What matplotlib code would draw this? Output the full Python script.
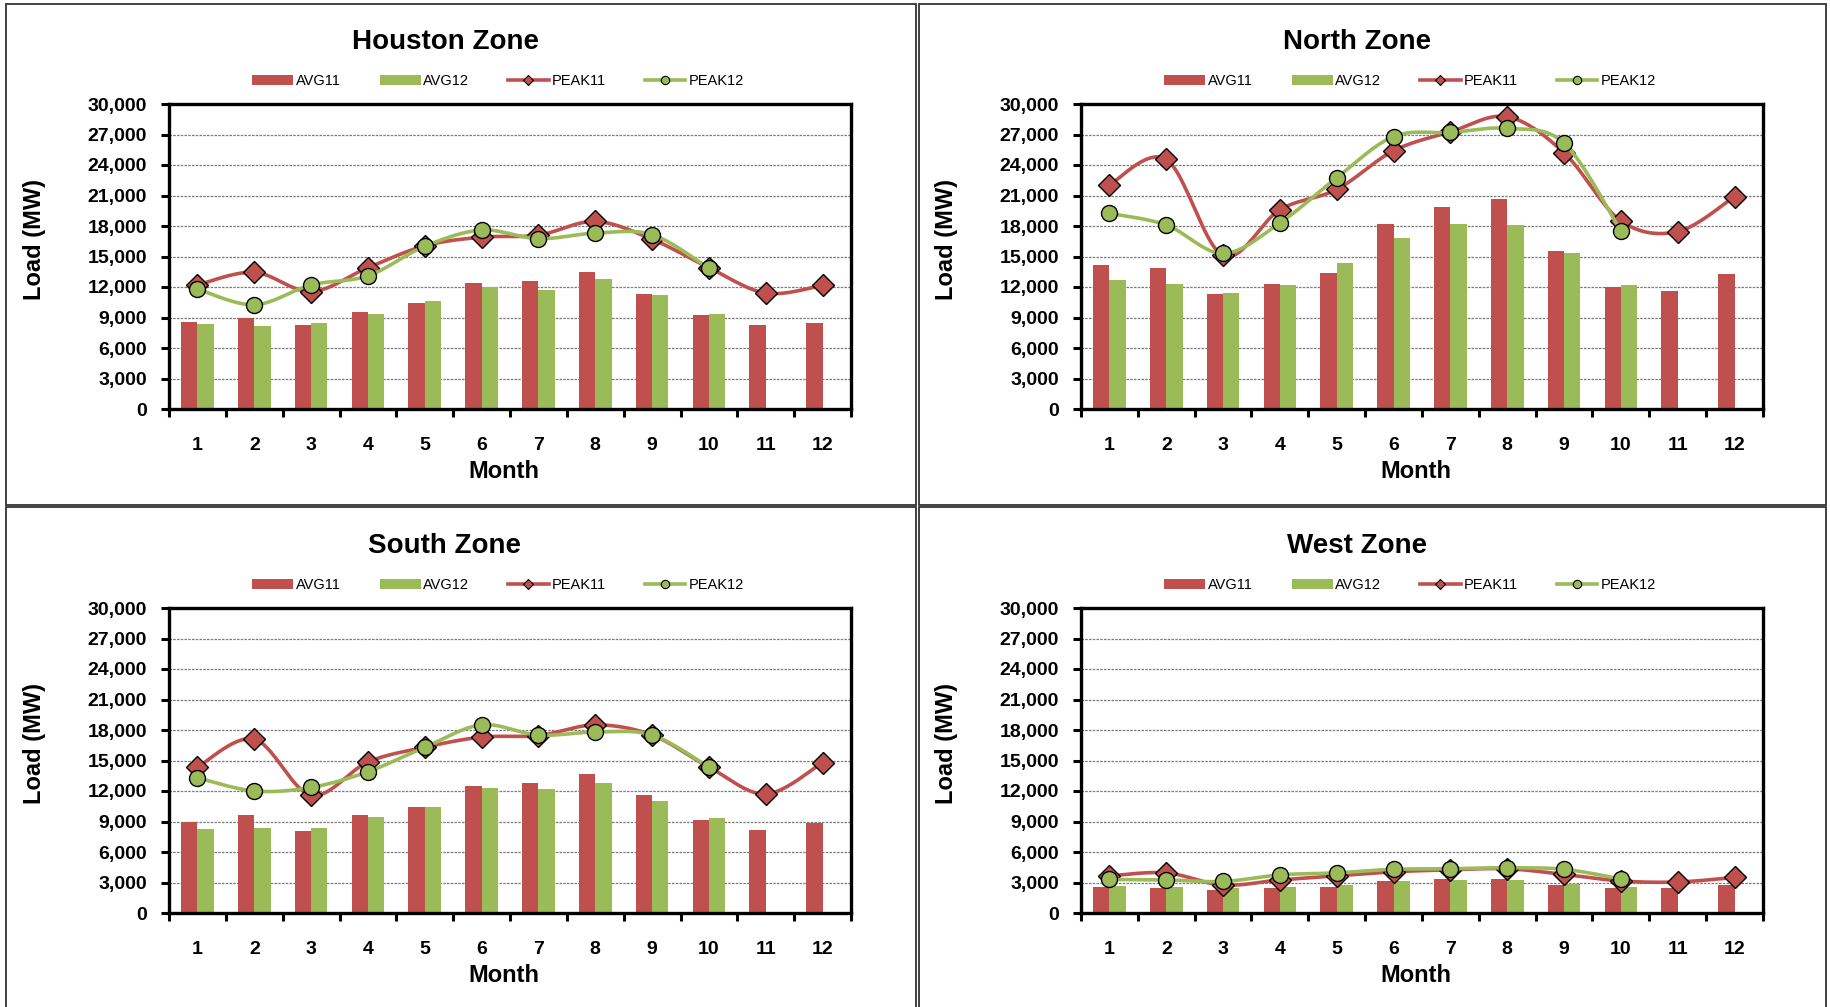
import numpy as np
import matplotlib
matplotlib.use("Agg")
import matplotlib.pyplot as plt
from matplotlib.lines import Line2D
from matplotlib.patches import Patch, Rectangle
from matplotlib.ticker import FuncFormatter

plt.rcParams['font.family'] = ['Liberation Sans', 'DejaVu Sans']

W, H = 1830, 1007

months = list(range(1, 13))
zones = ["Houston Zone", "North Zone", "South Zone", "West Zone"]

# values (MW)
houston_avg11 = [8600, 9000, 8300, 9500, 10450, 12400, 12550, 13450, 11350, 9200, 8250, 8450]
houston_avg12 = [8350, 8150, 8500, 9350, 10650, 12000, 11750, 12750, 11250, 9350]
houston_peak11 = [12200, 13450, 11550, 13900, 16050, 16900, 17100, 18450, 16700, 13900, 11400, 12150]
houston_peak12 = [11800, 10250, 12200, 13100, 16000, 17600, 16750, 17300, 17150, 13850]

north_avg11 = [14150, 13900, 11300, 12250, 13400, 18150, 19900, 20700, 15500, 12000, 11600, 13250]
north_avg12 = [12650, 12300, 11400, 12150, 14350, 16850, 18150, 18050, 15350, 12200]
north_peak11 = [22050, 24550, 15100, 19600, 21600, 25400, 27250, 28750, 25200, 18500, 17450, 20900]
north_peak12 = [19250, 18100, 15300, 18300, 22750, 26800, 27200, 27600, 26150, 17500]

south_avg11 = [8950, 9650, 8050, 9600, 10450, 12500, 12800, 13650, 11650, 9100, 8200, 8900]
south_avg12 = [8300, 8400, 8400, 9400, 10400, 12250, 12150, 12800, 11050, 9350]
south_peak11 = [14350, 17100, 11600, 14850, 16300, 17300, 17450, 18500, 17500, 14350, 11700, 14800]
south_peak12 = [13300, 12000, 12350, 13900, 16300, 18500, 17500, 17800, 17500, 14350]

west_avg11 = [2600, 2500, 2250, 2450, 2600, 3150, 3300, 3350, 2750, 2450, 2450, 2750]
west_avg12 = [2650, 2600, 2500, 2600, 2800, 3100, 3200, 3250, 2900, 2600]
west_peak11 = [3650, 3950, 2750, 3250, 3650, 4050, 4250, 4350, 3800, 3150, 3050, 3500]
west_peak12 = [3300, 3250, 3100, 3750, 3950, 4300, 4350, 4450, 4300, 3350]

zone_data = [
    (houston_avg11, houston_avg12, houston_peak11, houston_peak12),
    (north_avg11, north_avg12, north_peak11, north_peak12),
    (south_avg11, south_avg12, south_peak11, south_peak12),
    (west_avg11, west_avg12, west_peak11, west_peak12),
]

RED = "#C0504D"
GREEN = "#9BBB59"


def fx(x):
    return x / W


def fy(y):
    return 1 - y / H


def smooth(x, y, n=24):
    # Excel-style smoothed line (bezier through the points)
    pts = np.column_stack([x, y]).astype(float)
    t = np.linspace(0, 1, n)[:, None]
    out = []
    for i in range(len(pts) - 1):
        p0 = pts[max(i - 1, 0)]
        p1 = pts[i]
        p2 = pts[i + 1]
        p3 = pts[min(i + 2, len(pts) - 1)]
        c1 = p1 + (p2 - p0) / 6
        c2 = p2 - (p3 - p1) / 6
        seg = (1 - t) ** 3 * p1 + 3 * (1 - t) ** 2 * t * c1 + 3 * (1 - t) * t ** 2 * c2 + t ** 3 * p2
        out.append(seg if i == 0 else seg[1:])
    out = np.vstack(out)
    return out[:, 0], out[:, 1]


fig = plt.figure(figsize=(W / 100, H / 100), dpi=100)

# panel boxes (x0, y0, x1, y1 in pixels)
boxes = [(6, 4, 916, 505), (919, 4, 1826, 505), (6, 507, 916, 1012), (919, 507, 1826, 1012)]
for x0, y0, x1, y1 in boxes:
    fig.add_artist(Rectangle((fx(x0), fy(y1)), fx(x1 - x0), (y1 - y0) / H,
                             transform=fig.transFigure, fill=False,
                             edgecolor="#333333", linewidth=1.3))

# plot areas (x0, y0, x1, y1 in pixels)
plot_areas = [(169, 104, 851, 409), (1081, 104, 1763, 409),
              (169, 608, 851, 913), (1081, 608, 1763, 913)]
title_pos = [(445, 42), (1357, 42), (445, 546), (1357, 546)]
ylabel_x = [34, 946, 34, 946]

bw = 0.286
fmt = FuncFormatter(lambda v, p: f"{int(v):,}")

for k, zone in enumerate(zones):
    avg11, avg12, peak11, peak12 = zone_data[k]
    x0, y0, x1, y1 = plot_areas[k]
    ax = fig.add_axes([fx(x0), fy(y1), (x1 - x0) / W, (y1 - y0) / H])

    m11 = np.array(months[:len(avg11)])
    m12 = np.array(months[:len(avg12)])
    ax.bar(m11 - bw / 2, avg11, width=bw, color=RED, zorder=2)
    ax.bar(m12 + bw / 2, avg12, width=bw, color=GREEN, zorder=2)

    p11x = np.array(months[:len(peak11)])
    p12x = np.array(months[:len(peak12)])
    sx, sy = smooth(p11x, peak11)
    ax.plot(sx, sy, color=RED, lw=2.6, zorder=3, solid_capstyle="round")
    ax.plot(p11x, peak11, ls="none", marker="D", markersize=11, markerfacecolor=RED,
            markeredgecolor="black", markeredgewidth=1.0, zorder=4)
    sx, sy = smooth(p12x, peak12)
    ax.plot(sx, sy, color=GREEN, lw=2.6, zorder=5, solid_capstyle="round")
    ax.plot(p12x, peak12, ls="none", marker="o", markersize=11.5, markerfacecolor=GREEN,
            markeredgecolor="black", markeredgewidth=1.0, zorder=6)

    ax.set_xlim(0.5, 12.5)
    ax.set_ylim(0, 30000)
    ax.set_yticks(np.arange(0, 30001, 3000))
    ax.yaxis.set_major_formatter(fmt)
    ax.set_xticks(months)
    ax.set_xticks(np.arange(0.5, 13, 1), minor=True)
    ax.tick_params(axis="x", which="major", length=0, pad=20)
    ax.tick_params(axis="x", which="minor", length=6, width=2.2, direction="out")
    ax.tick_params(axis="y", length=6, width=2.2, direction="out", pad=10)
    for lab in ax.get_xticklabels() + ax.get_yticklabels():
        lab.set_fontsize(14)
        lab.set_fontweight("bold")
    ax.grid(axis="y", color="#7a7a7a", lw=0.9, ls=(0, (2, 1)), zorder=0)
    ax.set_axisbelow(True)
    for sp in ax.spines.values():
        sp.set_linewidth(2.4)
        sp.set_color("black")

    tx, ty = title_pos[k]
    fig.text(fx(tx), fy(ty), zone, ha="center", va="center", fontsize=20, fontweight="bold")
    fig.text(fx((x0 + x1) / 2 - 6), fy(y1 + 62), "Month", ha="center", va="center",
             fontsize=17, fontweight="bold")
    fig.text(fx(ylabel_x[k]), fy((y0 + y1) / 2 - 17), "Load (MW)", ha="center", va="center",
             rotation=90, fontsize=17, fontweight="bold")

    handles = [
        Patch(facecolor=RED, edgecolor="none"),
        Patch(facecolor=GREEN, edgecolor="none"),
        Line2D([], [], color=RED, lw=2.6, marker="D", markersize=5,
               markerfacecolor=RED, markeredgecolor="black", markeredgewidth=0.8),
        Line2D([], [], color=GREEN, lw=2.6, marker="o", markersize=6,
               markerfacecolor=GREEN, markeredgecolor="black", markeredgewidth=0.8),
    ]
    fig.legend(handles, ["AVG11", "AVG12", "PEAK11", "PEAK12"], loc="center",
               bbox_to_anchor=(fx(x0 + 329), fy(y0 - 23)), ncol=4, frameon=False,
               fontsize=10.5, handlelength=2.8, handletextpad=0.2, columnspacing=2.65)

fig.savefig("out.png", dpi=100)
